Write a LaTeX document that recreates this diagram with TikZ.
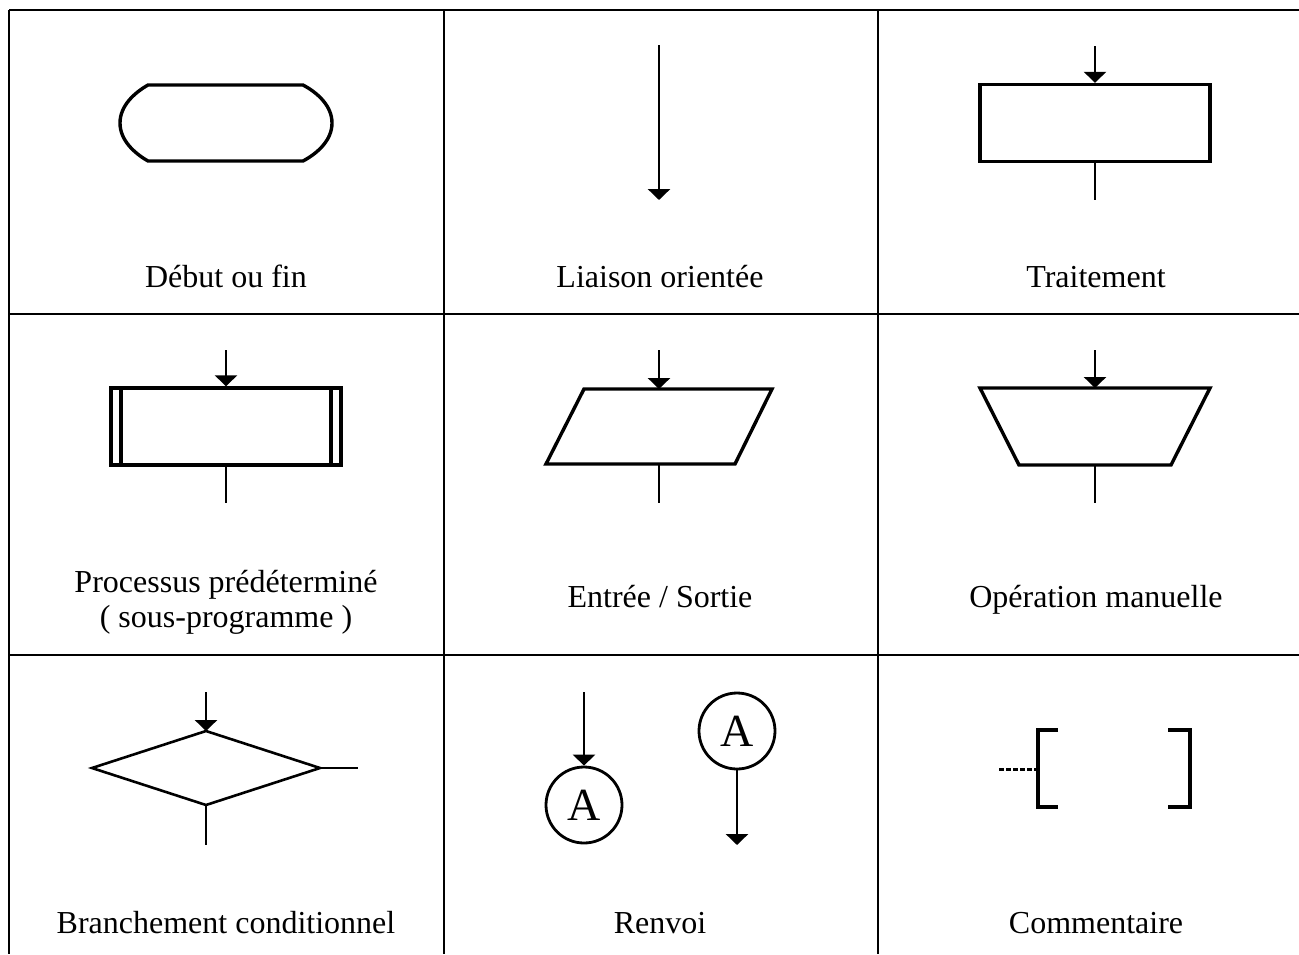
\documentclass[tikz,border=0pt]{standalone}
\usepackage{fontspec}
\setmainfont{Liberation Serif}
\usetikzlibrary{arrows.meta}
\begin{document}
\begin{tikzpicture}[x=1pt,y=-1pt,
  gridline/.style={line width=2.6pt},
  outline/.style={line width=3.4pt, line join=miter},
  thickbar/.style={line width=4.2pt},
  flow/.style={line width=2.8pt},
  flowarrow/.style={flow, -{Triangle[width=22pt,length=11pt]}},
  caption/.style={anchor=base, inner sep=0pt, font=\fontsize{32}{38}\selectfont},
  connector/.style={circle, draw, line width=2.8pt, minimum size=76pt, inner sep=0pt,
    font=\fontsize{46}{46}\selectfont},
  boxshape/.style={draw, outline, rectangle, inner sep=0pt, minimum width=230pt, minimum height=77pt}
]
\useasboundingbox (0,0) rectangle (1299,954);

% table rules
\draw[gridline] (9,10) -- (1299,10);
\draw[gridline] (9,314) -- (1299,314);
\draw[gridline] (9,655) -- (1299,655);
\draw[gridline] (9,10) -- (9,954);
\draw[gridline] (444,10) -- (444,954);
\draw[gridline] (878,10) -- (878,954);

% --- row 1 ---
% terminal
\draw[outline] (148,85) -- (303,85)
  .. controls (318,93) and (332,106) .. (332,123)
  .. controls (332,140) and (318,153) .. (303,161)
  -- (148,161)
  .. controls (134,153) and (120,140) .. (120,123)
  .. controls (120,106) and (134,93) .. (148,85) -- cycle;
\node[caption] (t1) at (226,287) {Début ou fin};

% oriented link
\coordinate (l0) at (659,45);
\coordinate (l1) at (659,200);
\draw[flowarrow] (l0) -- (l1);
\node[caption] (t2) at (660,287) {Liaison orientée};

% process box
\node[boxshape] (proc) at (1095,123) {};
\coordinate (p0) at (1095,46);
\coordinate (p1) at (1095,200);
\draw[flowarrow] (p0) -- (proc.north);
\draw[flow] (proc.south) -- (p1);
\node[caption] (t3) at (1096,287) {Traitement};

% --- row 2 ---
% predefined process
\node[boxshape] (sub) at (226,426.5) {};
\draw[thickbar] (121,388) -- (121,465);
\draw[thickbar] (331,388) -- (331,465);
\coordinate (s0) at (226,350);
\coordinate (s1) at (226,503);
\draw[flowarrow] (s0) -- (sub.north);
\draw[flow] (sub.south) -- (s1);
\node[caption] (t4a) at (226,592) {Processus prédéterminé};
\node[caption] (t4b) at (226,627) {( sous-programme )};

% input / output
\coordinate (io-a) at (584,389);
\coordinate (io-b) at (772,389);
\coordinate (io-c) at (735,464);
\coordinate (io-d) at (546,464);
\draw[outline] (io-a) -- (io-b) -- (io-c) -- (io-d) -- cycle;
\coordinate (io-top) at (659,389);
\coordinate (io-bot) at (659,464);
\coordinate (i0) at (659,350);
\coordinate (i1) at (659,503);
\draw[flowarrow] (i0) -- (io-top);
\draw[flow] (io-bot) -- (i1);
\node[caption] (t5) at (660,607) {Entrée / Sortie};

% manual operation
\coordinate (mo-a) at (980,388);
\coordinate (mo-b) at (1210,388);
\coordinate (mo-c) at (1171,465);
\coordinate (mo-d) at (1019,465);
\draw[outline] (mo-a) -- (mo-b) -- (mo-c) -- (mo-d) -- cycle;
\coordinate (mo-top) at (1095,388);
\coordinate (mo-bot) at (1095,465);
\coordinate (m0) at (1095,350);
\coordinate (m1) at (1095,503);
\draw[flowarrow] (m0) -- (mo-top);
\draw[flow] (mo-bot) -- (m1);
\node[caption] (t6) at (1096,607) {Opération manuelle};

% --- row 3 ---
% decision
\coordinate (dw) at (92,768);
\coordinate (dn) at (206,731);
\coordinate (de) at (320,768);
\coordinate (ds) at (206,805);
\draw[line width=2.6pt, line join=miter] (dw) -- (dn) -- (de) -- (ds) -- cycle;
\coordinate (d0) at (206,692);
\coordinate (d1) at (358,768);
\coordinate (d2) at (206,845);
\draw[flowarrow] (d0) -- (dn);
\draw[flow] (de) -- (d1);
\draw[flow] (ds) -- (d2);
\node[caption] (t7) at (226,933) {Branchement conditionnel};

% connectors
\node[connector] (ca) at (584,805) {\raisebox{-3pt}{A}};
\node[connector] (cb) at (737,731) {\raisebox{-3pt}{A}};
\coordinate (r0) at (584,692);
\coordinate (r1) at (737,845);
\draw[flowarrow] (r0) -- (ca.north);
\draw[flowarrow] (cb.south) -- (r1);
\node[caption] (t8) at (660,933) {Renvoi};

% comment
\draw[thickbar, line join=miter] (1058,730) -- (1038,730) -- (1038,807) -- (1058,807);
\draw[thickbar, line join=miter] (1168,730) -- (1190,730) -- (1190,807) -- (1168,807);
\coordinate (k0) at (999,769);
\coordinate (k1) at (1038,769);
\draw[line width=3pt, dash pattern=on 5pt off 2pt] (k0) -- (k1);
\node[caption] (t9) at (1096,933) {Commentaire};
\end{tikzpicture}
\end{document}
